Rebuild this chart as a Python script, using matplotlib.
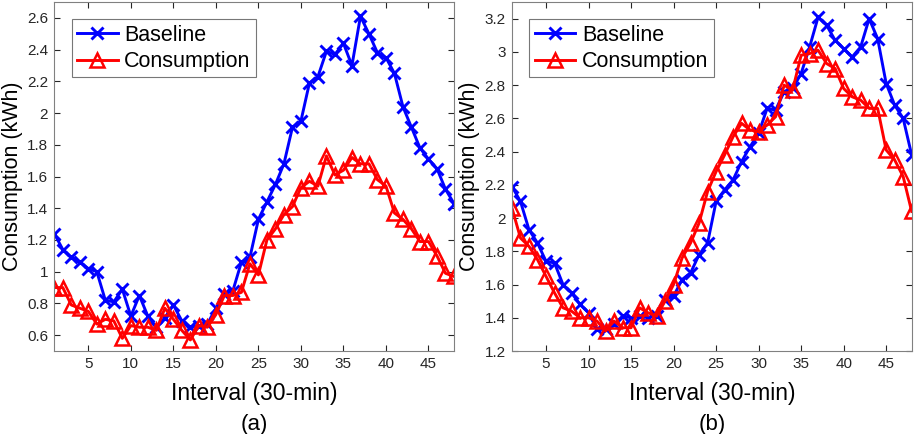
import matplotlib
matplotlib.use("Agg")
from matplotlib import pyplot as plt
from matplotlib.ticker import FuncFormatter

plt.rcParams['font.family'] = ['Liberation Sans', 'DejaVu Sans']

intervals = list(range(1, 49))

# panel (a)
a_base = [1.24, 1.14, 1.09, 1.06, 1.02, 1.00, 0.82, 0.81, 0.89, 0.72,
          0.85, 0.72, 0.65, 0.71, 0.79, 0.69, 0.65, 0.66, 0.67, 0.77,
          0.86, 0.88, 1.06, 1.09, 1.33, 1.44, 1.55, 1.68, 1.91, 1.95,
          2.19, 2.23, 2.39, 2.37, 2.44, 2.30, 2.61, 2.50, 2.38, 2.35,
          2.25, 2.04, 1.91, 1.78, 1.71, 1.65, 1.52, 1.43]
a_cons = [0.90, 0.90, 0.79, 0.77, 0.75, 0.67, 0.70, 0.69, 0.58, 0.66,
          0.65, 0.65, 0.63, 0.77, 0.70, 0.63, 0.57, 0.66, 0.65, 0.73,
          0.85, 0.85, 0.87, 1.05, 0.98, 1.20, 1.27, 1.36, 1.41, 1.53,
          1.57, 1.54, 1.73, 1.61, 1.64, 1.72, 1.68, 1.68, 1.58, 1.54,
          1.37, 1.33, 1.27, 1.19, 1.19, 1.10, 0.99, 0.97]

# panel (b)
b_base = [2.19, 2.10, 1.93, 1.85, 1.74, 1.73, 1.60, 1.55, 1.48, 1.43,
          1.33, 1.33, 1.36, 1.41, 1.40, 1.41, 1.40, 1.41, 1.51, 1.53,
          1.63, 1.67, 1.78, 1.85, 2.10, 2.17, 2.23, 2.34, 2.43, 2.51,
          2.66, 2.65, 2.76, 2.78, 2.87, 3.03, 3.21, 3.16, 3.07, 3.02,
          2.97, 3.03, 3.20, 3.08, 2.81, 2.68, 2.60, 2.38]
b_cons = [2.06, 1.88, 1.83, 1.75, 1.65, 1.55, 1.46, 1.44, 1.40, 1.40,
          1.38, 1.32, 1.38, 1.34, 1.34, 1.46, 1.43, 1.41, 1.50, 1.60,
          1.76, 1.85, 1.97, 2.16, 2.28, 2.38, 2.49, 2.57, 2.53, 2.52,
          2.56, 2.61, 2.80, 2.77, 2.98, 2.99, 3.01, 2.93, 2.90, 2.78,
          2.73, 2.71, 2.66, 2.66, 2.41, 2.35, 2.25, 2.04]

panels = [
    (a_base, a_cons, (0.5, 2.7), [0.6 + 0.2 * k for k in range(11)], '(a)'),
    (b_base, b_cons, (1.2, 3.3), [1.2 + 0.2 * k for k in range(11)], '(b)'),
]
lefts = [0.0589, 0.5553]

fig = plt.figure(figsize=(9.22, 4.34), dpi=100)

for (base, cons, ylim, yticks, tag), left in zip(panels, lefts):
    ax = fig.add_axes([left, 0.1912, 0.4335, 0.804])
    ax.plot(intervals, base, color='blue', lw=2.1, marker='x', ms=8, mew=2.1,
            label='Baseline')
    ax.plot(intervals, cons, color='red', lw=2.1, marker='^', ms=9.5, mew=1.8,
            mfc='none', label='Consumption')
    ax.set_xlim(1, 48)
    ax.set_ylim(*ylim)
    ax.set_xticks(range(5, 46, 5))
    ax.set_yticks(yticks)
    ax.yaxis.set_major_formatter(FuncFormatter(lambda v, p: f"{round(v, 2):g}"))
    ax.tick_params(direction='in', top=True, right=True, labelsize=11,
                   colors='#262626', length=4, pad=4.5)
    for s in ax.spines.values():
        s.set_color('#808080')
    ax.set_xlabel('Interval (30-min)', fontsize=16.5, labelpad=8)
    ax.set_ylabel('Consumption (kWh)', fontsize=15.5, labelpad=3)
    ax.text(0.5, -0.21, tag, transform=ax.transAxes, ha='center', va='center',
            fontsize=16)
    leg = ax.legend(loc='upper left', fontsize=15.5, fancybox=False,
                    edgecolor='#555555', handlelength=1.9, borderaxespad=0.8,
                    borderpad=0.25, labelspacing=0.25, handletextpad=0.3)
    leg.get_frame().set_linewidth(0.8)

fig.savefig('out.png', dpi=100)
